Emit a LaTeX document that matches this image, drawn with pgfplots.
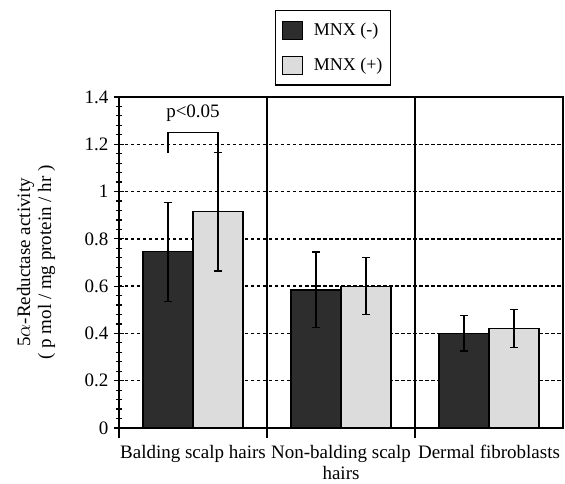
\documentclass[border=0pt]{standalone}
\usepackage{fontspec}
\setmainfont{Liberation Serif}
\usepackage{pgfplots}
\pgfplotsset{compat=1.18}
\definecolor{darkbar}{RGB}{45,45,45}
\definecolor{lightbar}{RGB}{220,220,220}
\newcommand{\LabFont}{\fontsize{19bp}{21bp}\selectfont}
\newcommand{\LegFont}{\fontsize{18bp}{20bp}\selectfont}
\pgfplotsset{
  errstyle/.style={
    error bars/y dir=both, error bars/y explicit,
    error bars/error bar style={line width=1.3bp, black},
    error bars/error mark options={rotate=90, mark size=4bp, line width=1.3bp, black}
  }
}
\begin{document}
\begin{tikzpicture}
\begin{axis}[
    scale only axis,
    width=444bp, height=331bp,
    xmin=-0.5, xmax=2.5,
    ymin=0, ymax=1.4,
    ybar=0pt, bar width=0.338,
    tick pos=left,
    xtick={-0.5,0.5,1.5},
    xticklabels={},
    xtick align=outside,
    ytick align=center,
    major tick length=10bp,
    minor tick length=6bp,
    ytick={0,0.2,...,1.4},
    minor y tick num=4,
    xmajorgrids, ymajorgrids,
    every axis x grid/.style={solid, black, line width=1.3bp},
    every axis y grid/.style={black, line width=1.5bp, dash pattern=on 3.5bp off 2.5bp},
    extra x ticks={0,1,2},
    extra x tick labels={Balding scalp hairs,{Non-balding scalp\\hairs},Dermal fibroblasts},
    extra x tick style={major tick length=0pt, grid=none,
        xticklabel style={align=center, yshift=-14bp}},
    axis line style={line width=1.4bp},
    tick style={line width=1.2bp, black},
    ticklabel style={font=\LabFont},
    /pgf/number format/assume math mode=true,
    yticklabel style={/pgf/number format/fixed, xshift=-2bp},
    ylabel={5$\alpha$-Reductase activity\\( p mol / mg protein / hr )},
    ylabel style={font=\LabFont, align=center, at={(axis description cs:-0.187,0.5)}, anchor=center},
    legend style={at={(rel axis cs:0.482,1.263)}, anchor=north, draw=black, line width=1.2bp,
        font=\LegFont, row sep=16bp, inner xsep=6bp, inner ysep=10bp,
        /tikz/every odd column/.append style={column sep=9bp}},
    legend cell align=left,
    legend image code/.code={\draw[#1, line width=1.2bp] (0bp,-9bp) rectangle (20bp,9bp);},
    clip=false
]
\addplot[fill=darkbar, draw=black, line width=1.2bp, errstyle] coordinates {
    (0,0.745) +- (0,0.21)
    (1,0.584) +- (0,0.16)
    (2,0.400) +- (0,0.075)
};
\addplot[fill=lightbar, draw=black, line width=1.2bp, errstyle] coordinates {
    (0,0.914) +- (0,0.25)
    (1,0.600) +- (0,0.12)
    (2,0.420) +- (0,0.08)
};
\legend{MNX (-),MNX (+)}
\draw[line width=1.2bp] (axis cs:-0.169,1.163) -- (axis cs:-0.169,1.25) -- (axis cs:0.169,1.25) -- (axis cs:0.169,1.163);
\node[font=\LabFont] at (axis cs:0,1.332) {p<0.05};
\coordinate (bl) at (rel axis cs:-0.268,-0.166);
\coordinate (tr) at (rel axis cs:1.0045,1.293);
\end{axis}
\path (bl) rectangle (tr);
\end{tikzpicture}
\end{document}
